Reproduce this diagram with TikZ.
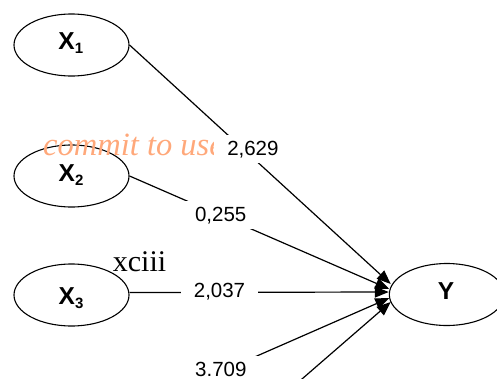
\documentclass[tikz,border=0pt]{standalone}
\usepackage{fontspec}
\setmainfont{Liberation Sans}
\newfontfamily\seriffam{Liberation Serif}
\usetikzlibrary{arrows.meta,shapes.geometric}
\definecolor{wmark}{RGB}{255,168,122}
\newcommand\vsub[1]{\raisebox{-4pt}{\fontsize{15}{15}\selectfont #1}}
\begin{document}
\begin{tikzpicture}[x=1pt,y=-1pt,
  latent/.style={draw, line width=1.1pt, ellipse, minimum width=115pt, minimum height=62pt, inner sep=0pt},
  vname/.style={font=\fontsize{24.5}{24.5}\selectfont\bfseries, inner sep=0pt, anchor=base},
  pathline/.style={line width=1.2pt, -{Triangle[length=14pt,width=11pt]}},
  coef/.style={fill=white, font=\fontsize{20.5}{20.5}\selectfont, inner xsep=13pt, inner ysep=6.5pt, text height=14pt, text depth=1pt},
]
\useasboundingbox (0,0) rectangle (497,378);
\clip (0,0) rectangle (497,378);

% latent variables
\node[latent] (X1) at (71.5,45) {};
\node[latent] (X2) at (71.5,176) {};
\node[latent] (X3) at (71.5,295) {};
\node[latent] (Y) at (446.8,294.5) {};
\node[vname] (tX1) at (70.8,49.3) {X\vsub{1}};
\node[vname] (tX2) at (71,181.7) {X\vsub{2}};
\node[vname] (tX3) at (71,304) {X\vsub{3}};
\node[vname] (tY) at (446,299.3) {Y};

% off-page sources
\coordinate (X4) at (129,412);
\coordinate (X5) at (129,529);

% watermark and page number
\node[font=\seriffam\itshape\fontsize{32.5}{32.5}\selectfont, text=wmark, anchor=base west, inner sep=0pt] (wm) at (43,155) {commit to use};
\node[font=\seriffam\fontsize{30}{30}\selectfont, anchor=base, inner sep=0pt] (pg) at (139.5,271) {xciii};

% paths
\draw[pathline] (X1.east) -- ([shift={(2,-10.5)}]Y.west);
\draw[pathline] (X2.east) -- ([shift={(0.5,-5.5)}]Y.west);
\draw[pathline] ([shift={(0,-2.5)}]X3.east) -- ([shift={(0,-2.5)}]Y.west);
\draw[pathline] (X4) -- ([shift={(0.5,3.5)}]Y.west);
\draw[pathline] (X5) -- ([shift={(2,7.5)}]Y.west);

% coefficients
\node[coef] (c1) at (252.9,149) {2,629};
\node[coef] (c2) at (220.7,214.8) {0,255};
\node[coef] (c3) at (219.5,290.5) {2,037};
\node[coef] (c4) at (220.8,370.3) {3.709};
\end{tikzpicture}
\end{document}
